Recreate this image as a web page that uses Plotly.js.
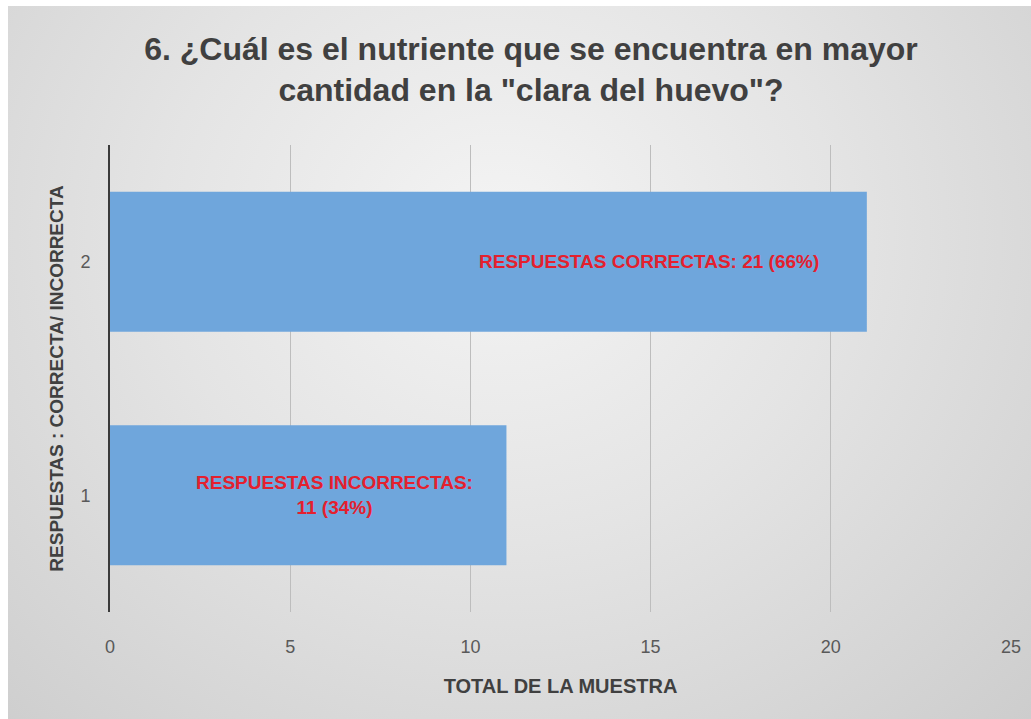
<!DOCTYPE html>
<html>
<head>
<meta charset="utf-8">
<script src="https://cdn.plot.ly/plotly-3.0.1.min.js"></script>
<style>
  html, body { margin: 0; padding: 0; background: #ffffff; }
  #bg { position: absolute; left: 8px; top: 6px; width: 1023px; height: 713px;
        background: radial-gradient(ellipse at 48% 32%, #f4f4f4 0%, #e4e4e4 45%, #cdcdcd 100%); }
  #chart { position: absolute; left: 0; top: 0; width: 1031px; height: 719px; }
</style>
</head>
<body>
<div id="bg"></div>
<div id="chart"></div>
<script>
const categories = [1, 2];
const values = [11, 21];
const labels = ["RESPUESTAS INCORRECTAS:<br>11 (34%)", "RESPUESTAS CORRECTAS: 21 (66%)"];
const xTicks = [0, 5, 10, 15, 20, 25];
const titleText = '6. ¿Cuál es el nutriente que se encuentra en mayor<br>cantidad en la "clara del huevo"?';
const xTitle = "TOTAL DE LA MUESTRA";
const yTitle = "RESPUESTAS : CORRECTA/ INCORRECTA";

const FONT = '"Liberation Sans", Arial, sans-serif';
const labelShift = [-31, -46];

const trace = {
  type: 'bar',
  orientation: 'h',
  x: values,
  y: categories,
  width: 0.6,
  marker: { color: '#6fa6dc' },
  hoverinfo: 'none'
};

const annotations = categories.map((c, i) => ({
  x: values[i], y: c, xref: 'x', yref: 'y',
  text: labels[i], showarrow: false,
  xanchor: 'right', yanchor: 'middle', align: 'center',
  xshift: labelShift[i],
  font: { family: FONT, size: 19, color: '#e4202e', weight: 'bold' }
}));

const layout = {
  width: 1031, height: 719,
  paper_bgcolor: 'rgba(0,0,0,0)',
  plot_bgcolor: 'rgba(0,0,0,0)',
  margin: { l: 110, r: 20, t: 145, b: 107 },
  showlegend: false,
  title: {
    text: titleText,
    x: 0.515, xanchor: 'center',
    y: 0.917, yanchor: 'top',
    font: { family: FONT, size: 32, color: '#404040', weight: 'bold' }
  },
  xaxis: {
    range: [0, 25],
    tickvals: xTicks,
    ticktext: xTicks.map(String),
    showgrid: true, gridcolor: '#bdbdbd', gridwidth: 1,
    zeroline: false, showline: false,
    ticks: '', ticklabelstandoff: 22,
    tickfont: { family: FONT, size: 18, color: '#595959' },
    title: { text: xTitle, standoff: 22,
             font: { family: FONT, size: 20, color: '#404040', weight: 'bold' } },
    fixedrange: true
  },
  yaxis: {
    range: [0.5, 2.5],
    tickvals: categories,
    ticktext: categories.map(String),
    showgrid: false, zeroline: false,
    showline: true, linecolor: '#3a3a3a', linewidth: 2,
    ticks: '', ticklabelstandoff: 14,
    tickfont: { family: FONT, size: 18, color: '#595959' },
    title: { text: yTitle, standoff: 12,
             font: { family: FONT, size: 19, color: '#404040', weight: 'bold' } },
    fixedrange: true
  },
  annotations: annotations
};

Plotly.newPlot('chart', [trace], layout, { displayModeBar: false, staticPlot: true });
</script>
</body>
</html>
